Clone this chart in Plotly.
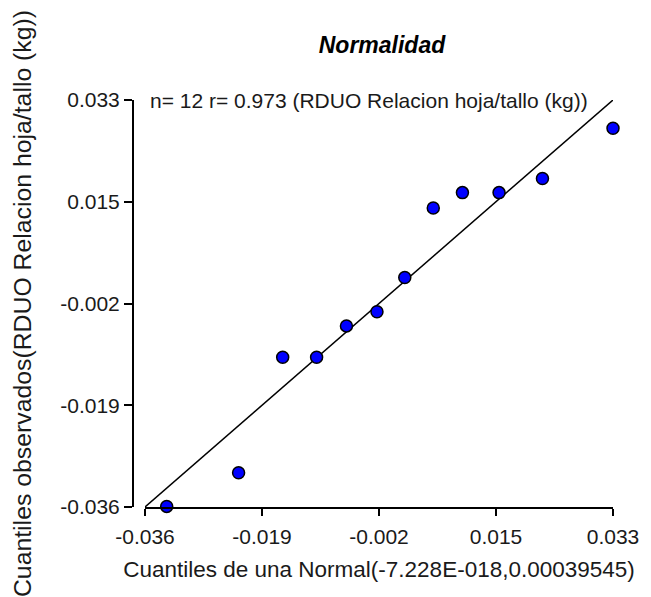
import numpy as np
import plotly.graph_objects as go

# Data
theo_q = [-0.0328, -0.0222, -0.0157, -0.0107, -0.0063, -0.0018,
          0.0023, 0.0065, 0.0108, 0.0162, 0.0226, 0.0330]
obs_q = [-0.0359, -0.0302, -0.0106, -0.0106, -0.0053, -0.0029,
         0.0029, 0.0147, 0.0173, 0.0173, 0.0197, 0.0282]
line_x = [-0.036, 0.033]
line_y = [-0.036, 0.033]
tick_labels = ["-0.036", "-0.019", "-0.002", "0.015", "0.033"]
axis_min, axis_max = -0.036, 0.033

title_text = "Normalidad"
note_text = "n= 12 r= 0.973 (RDUO Relacion hoja/tallo (kg))"
x_title = "Cuantiles de una Normal(-7.228E-018,0.00039545)"
y_title = "Cuantiles observados(RDUO Relacion hoja/tallo (kg))"

tickvals = list(np.linspace(axis_min, axis_max, len(tick_labels)))
FONT = "Liberation Sans, Arial, sans-serif"
TXT = "#1a1a1a"

fig = go.Figure()
fig.add_trace(go.Scatter(x=line_x, y=line_y, mode="lines",
                         line=dict(color="black", width=1.5),
                         hoverinfo="skip"))
fig.add_trace(go.Scatter(x=theo_q, y=obs_q, mode="markers",
                         marker=dict(size=12, color="#0000FF",
                                     line=dict(color="black", width=1.5)),
                         cliponaxis=False))

axis_common = dict(range=[axis_min, axis_max], showline=True, linecolor="black",
                   linewidth=2, ticks="outside", tickwidth=2, tickcolor="black",
                   tickvals=tickvals, ticktext=tick_labels, showgrid=False,
                   zeroline=False, tickfont=dict(family=FONT, size=21, color=TXT))

fig.update_layout(
    width=651, height=597,
    margin=dict(l=133, r=38, t=100, b=90),
    plot_bgcolor="white", paper_bgcolor="white",
    showlegend=False,
    font=dict(family=FONT, color=TXT),
    title=dict(text="<b><i>" + title_text + "</i></b>", xref="container",
               x=382 / 651, xanchor="center", yref="container",
               y=1 - 45 / 597, yanchor="middle",
               font=dict(family=FONT, size=23, color="black")),
    xaxis=dict(domain=[0.025, 1], anchor="y", ticklen=7, ticklabelstandoff=3,
               title=dict(text=x_title, font=dict(family=FONT, size=22.5, color=TXT),
                          standoff=14),
               **axis_common),
    yaxis=dict(anchor="free", position=0, ticklen=8,
               title=dict(text=y_title, font=dict(family=FONT, size=24.8, color=TXT),
                          standoff=21),
               **axis_common),
    annotations=[dict(text=note_text, xref="paper", yref="paper",
                      x=15 / 480, y=1, xanchor="left", yanchor="middle",
                      showarrow=False,
                      font=dict(family=FONT, size=21, color=TXT))],
)

fig.write_html("out.html")
